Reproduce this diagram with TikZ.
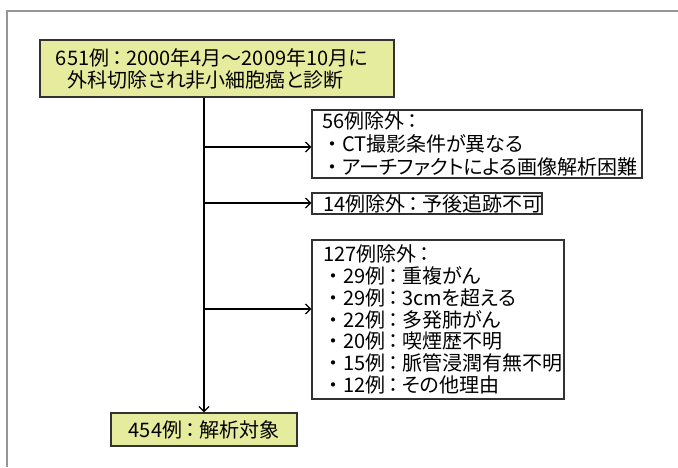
\documentclass[tikz,border=0pt]{standalone}
\usepackage{fontspec}
\setmainfont[RawFeature=+palt]{Noto Sans CJK JP}
\newfontfamily\fullw{Noto Sans CJK JP}
\usetikzlibrary{arrows.meta}
\definecolor{boxyellow}{RGB}{230,236,158}
\definecolor{framegray}{RGB}{150,150,150}
\definecolor{edgegray}{RGB}{50,50,50}
\newcommand\bul{\makebox[20pt][c]{\fullw ・}}
\newcommand\col{\makebox[17pt][c]{\fullw ：}}
\begin{document}
\begin{tikzpicture}[x=1pt,y=-1pt,
  box/.style={draw=edgegray,line width=1.3pt,rectangle,inner ysep=0pt,font=\fontsize{20}{21.7}\selectfont},
  ybox/.style={box,fill=boxyellow},
  conn/.style={draw=black,line width=1.3pt,-{Straight Barb[length=5pt,width=10pt,line width=1.3pt]}}]
\useasboundingbox (0,0) rectangle (678,467);
\draw[framegray,line width=2pt] (7,10.5) -- (678,10.5);
\draw[framegray,line width=2pt] (7,10) -- (7,467);

\node[ybox,minimum width=354pt,minimum height=57pt,text width=322pt,inner xsep=16pt,align=left,font=\fontsize{20}{22}\selectfont] (top) at (217,68.5)
  {651例\col 2000年4月～2009年10月に\\\hspace*{12pt}外科切除され非小細胞癌と診断};
\node[box,minimum width=330pt,minimum height=68pt,text width=310pt,inner xsep=10pt,align=left,font=\fontsize{20}{23}\selectfont] (ex1) at (477,144)
  {56例除外\col\\\bul CT撮影条件が異なる\\\bul アーチファクトによる画像解析困難};
\node[box,minimum width=230pt,minimum height=21pt,text width=208pt,inner xsep=11pt,align=left] (ex2) at (427,203.5)
  {14例除外\col 予後追跡不可};
\node[box,minimum width=252pt,minimum height=159pt,text width=230pt,inner xsep=11pt,align=left] (ex3) at (438,319.5)
  {127例除外\col\\\bul 29例\col 重複がん\\\bul 29例\col 3cmを超える\\\bul 22例\col 多発肺がん\\\bul 20例\col 喫煙歴不明\\\bul 15例\col 脈管浸潤有無不明\\\bul 12例\col その他理由};
\node[ybox,minimum width=186pt,minimum height=33pt,align=center] (bot) at (204,429.5)
  {454例\col 解析対象};

\coordinate (tr) at (204,97);
\coordinate (t1) at (204,147);
\coordinate (t2) at (204,203);
\coordinate (t3) at (204,309);
\draw[conn] (tr |- top.south) -- (tr |- bot.north);
\draw[conn] (t1) -- (t1 -| ex1.west);
\draw[conn] (t2) -- (t2 -| ex2.west);
\draw[conn] (t3) -- (t3 -| ex3.west);
\end{tikzpicture}
\end{document}
